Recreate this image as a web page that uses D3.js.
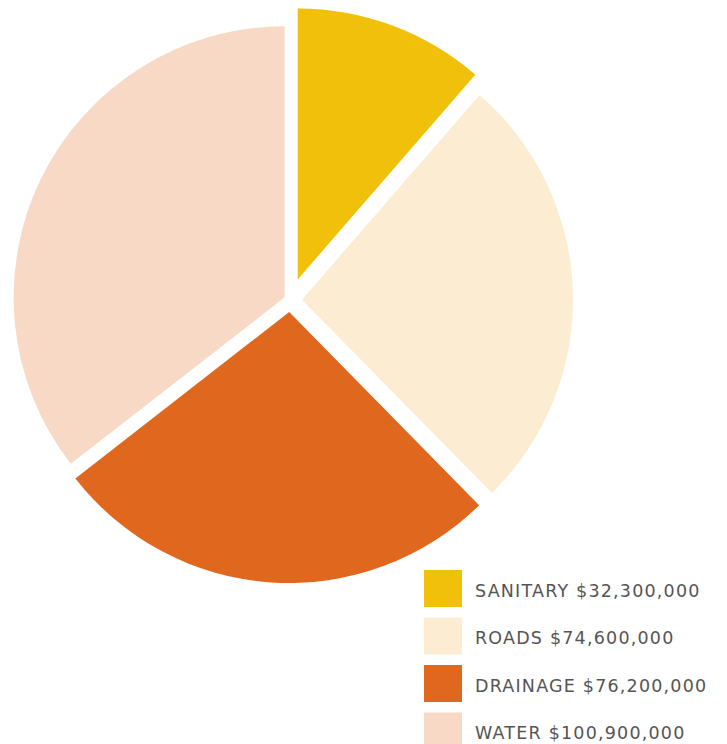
<!DOCTYPE html>
<html>
<head>
<meta charset="utf-8">
<script src="https://cdn.jsdelivr.net/npm/d3@7"></script>
<style>
  html, body { margin: 0; padding: 0; background: #ffffff; }
  svg { display: block; }
</style>
</head>
<body>
<svg id="chart" width="727" height="744"></svg>
<script>
// ---- data ----
const categories = ["SANITARY", "ROADS", "DRAINAGE", "WATER"];
const values = [32300000, 74600000, 76200000, 100900000];
const labels = ["SANITARY $32,300,000", "ROADS $74,600,000", "DRAINAGE $76,200,000", "WATER $100,900,000"];

// ---- style ----
const colors = ["#F0C00A", "#FCEDD2", "#E0671E", "#F8D9C6"];
const explode = [22, 12, 12, 6];   // per-slice pull-out distance (px)

const W = 727, H = 744;
const cx = 290, cy = 300, R = 271;

const svg = d3.select("#chart");

const pie = d3.pie().sort(null).value(d => d)
  .startAngle(0).endAngle(2 * Math.PI);
const arcs = pie(values);
const arc = d3.arc().innerRadius(0).outerRadius(R);

const color = d3.scaleOrdinal().domain(categories).range(colors);

const g = svg.append("g").attr("transform", `translate(${cx},${cy})`);
g.selectAll("path.slice")
  .data(arcs)
  .join("path")
  .attr("class", "slice")
  .attr("d", arc)
  .attr("fill", (d, i) => color(categories[i]))
  .attr("transform", (d, i) => {
    const a = (d.startAngle + d.endAngle) / 2;
    const dx = Math.sin(a) * explode[i];
    const dy = -Math.cos(a) * explode[i];
    return `translate(${dx},${dy})`;
  });

// ---- legend ----
const legendY = d3.scaleBand().domain(categories).range([570, 760]).paddingInner(0).paddingOuter(0);
const lg = svg.append("g");
const items = lg.selectAll("g.item")
  .data(categories)
  .join("g")
  .attr("class", "item")
  .attr("transform", d => `translate(424,${legendY(d)})`);

items.append("rect")
  .attr("width", 38).attr("height", 37)
  .attr("fill", d => color(d));

items.append("text")
  .attr("x", 51)
  .attr("y", 26.5)
  .attr("font-family", "'DejaVu Sans', sans-serif")
  .attr("font-size", 17.5)
  .attr("letter-spacing", 1.2)
  .attr("fill", "#555555")
  .text((d, i) => labels[i]);
</script>
</body>
</html>
